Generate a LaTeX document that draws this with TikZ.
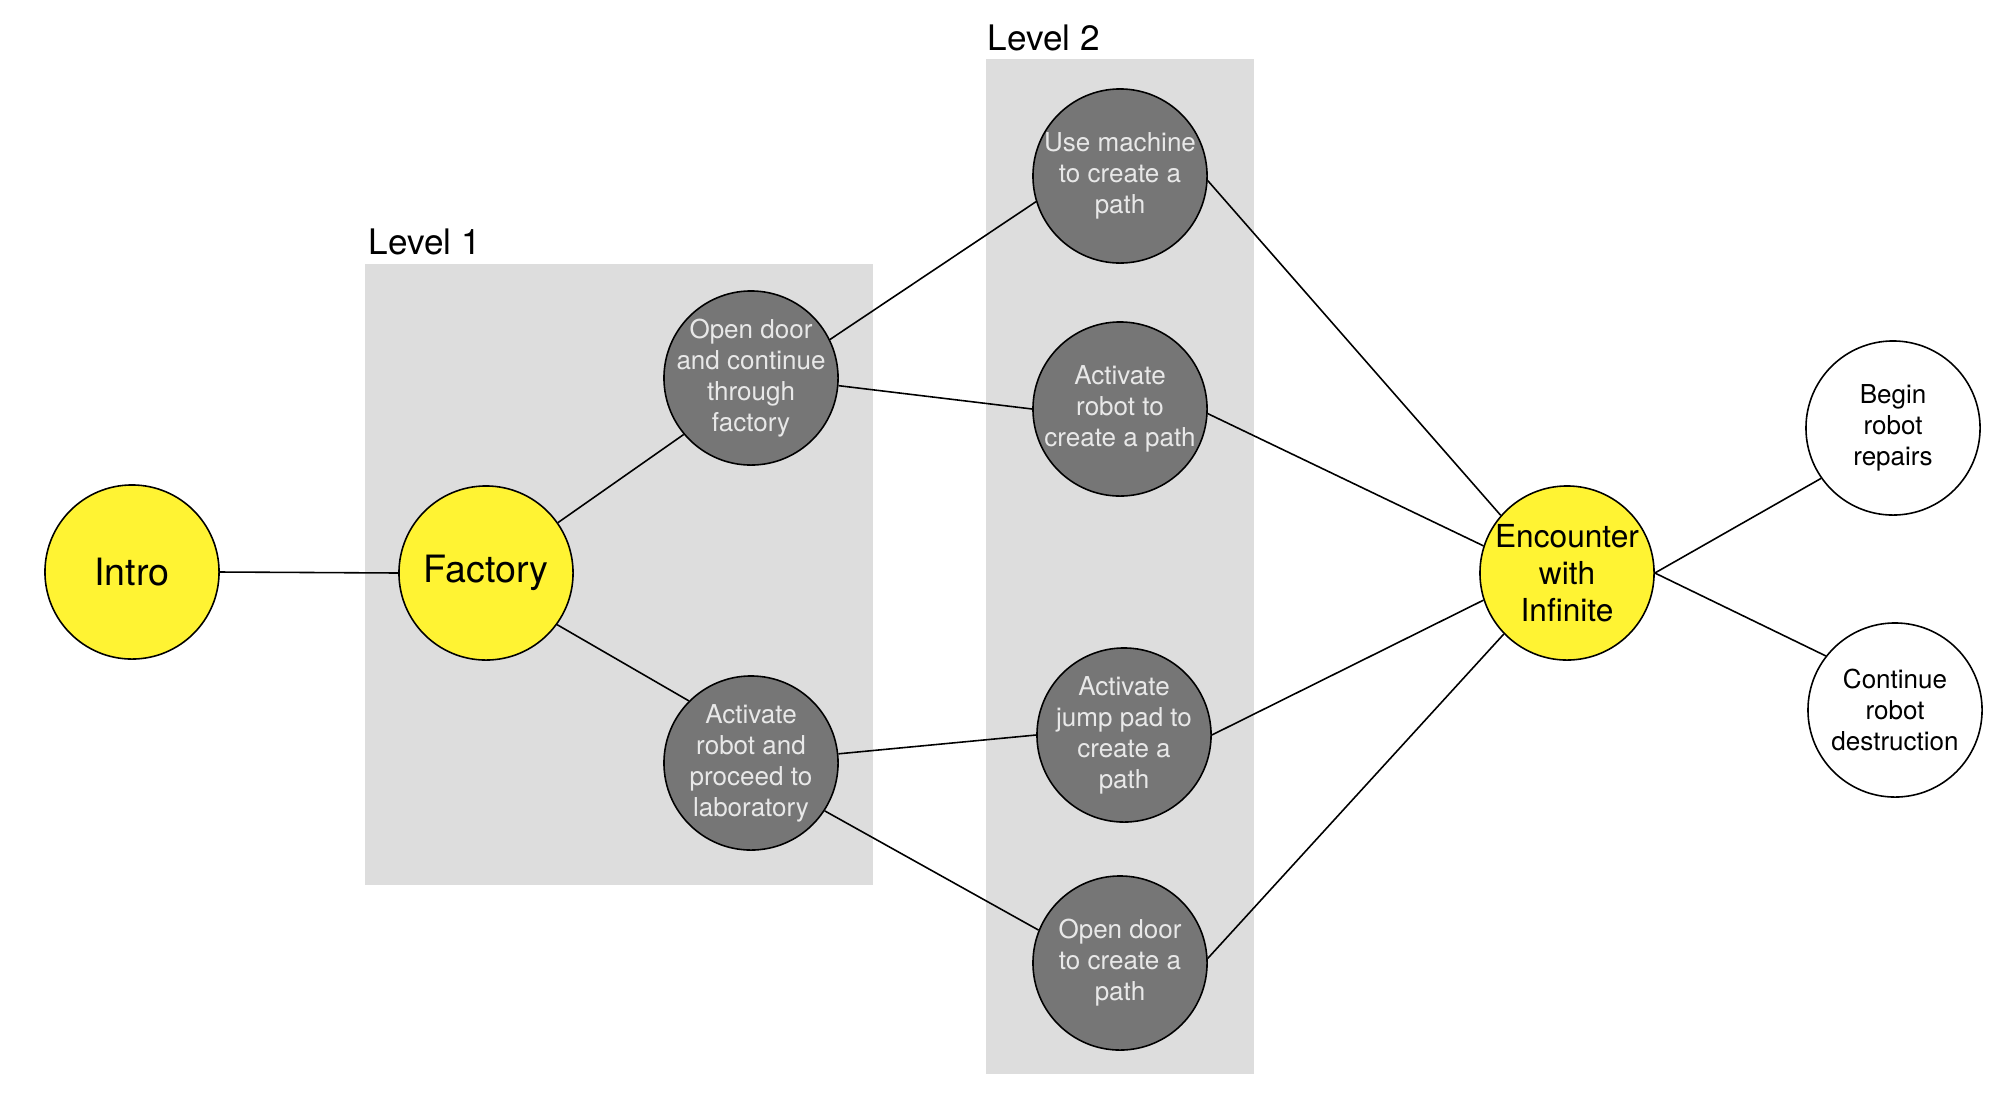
\documentclass[tikz,border=0pt]{standalone}
\usepackage{fontspec}
\setmainfont{TeX Gyre Heros}
\usepackage{xcolor}
\definecolor{storyyellow}{RGB}{255,243,51}
\definecolor{stepgrey}{RGB}{118,118,118}
\definecolor{levelgrey}{RGB}{221,221,221}
\definecolor{steptext}{RGB}{232,232,232}

\begin{document}
\begin{tikzpicture}[x=0.01cm,y=-0.01cm,
    every node/.style={circle,draw,line width=0.45pt,minimum size=1.74cm,inner sep=-10pt,align=center},
    mainstep/.style={fill=storyyellow,font=\fontsize{10.7}{13}\selectfont},
    endstep/.style={fill=storyyellow,font=\fontsize{9}{10.5}\selectfont},
    levelstep/.style={fill=stepgrey,text=steptext,font=\fontsize{7.4}{8.8}\selectfont},
    outcome/.style={fill=white,font=\fontsize{7.4}{8.8}\selectfont},
    levellabel/.style={draw=none,rectangle,minimum size=0pt,inner sep=0pt,anchor=base west,font=\fontsize{10}{12}\selectfont},
    link/.style={line width=0.45pt}]
    \useasboundingbox (0,0) rectangle (2010,1118);
    \fill[levelgrey] (365,264) rectangle (873,885);
    \fill[levelgrey] (986,59) rectangle (1254,1074);
    \node[levellabel] (lvlone) at (368,254) {Level 1};
    \node[levellabel] (lvltwo) at (987,50) {Level 2};

    \node[mainstep] (intro) at (132,572) {Intro};
    \node[mainstep] (factory) at (486,573) {Factory};
    \node[levelstep] (opendoor) at (751,378) {Open door\\and continue\\through\\factory};
    \node[levelstep] (lab) at (751,763) {Activate\\robot and\\proceed to\\laboratory};
    \node[levelstep] (machine) at (1120,176) {Use machine\\to create a\\path};
    \node[levelstep] (robotpath) at (1120,409) {Activate\\robot to\\create a path};
    \node[levelstep] (jumppad) at (1124,735) {Activate\\jump pad to\\create a\\path};
    \node[levelstep] (doorpath) at (1120,963) {Open door\\to create a\\path};
    \node[endstep] (infinite) at (1567,573) {Encounter\\with\\Infinite};
    \node[outcome] (repairs) at (1893,428) {Begin\\robot\\repairs};
    \node[outcome] (destruction) at (1895,710) {Continue\\robot\\destruction};

    \draw[link] (intro.east) -- (factory.west);
    \draw[link] (factory.35) -- (opendoor.220);
    \draw[link] (factory.324) -- (lab.135);
    \draw[link] (opendoor.26) -- (machine.197);
    \draw[link] (opendoor.355) -- (robotpath.west);
    \draw[link] (lab.6) -- (jumppad.west);
    \draw[link] (lab.327) -- (doorpath.158);
    \draw[link] (machine.357) -- (infinite.139);
    \draw[link] (robotpath.357) -- (infinite.162);
    \draw[link] (jumppad.east) -- (infinite.198);
    \draw[link] (doorpath.3) -- (infinite.224);
    \draw[link] (infinite.east) -- (repairs.215);
    \draw[link] (infinite.east) -- (destruction.142);
\end{tikzpicture}
\end{document}
